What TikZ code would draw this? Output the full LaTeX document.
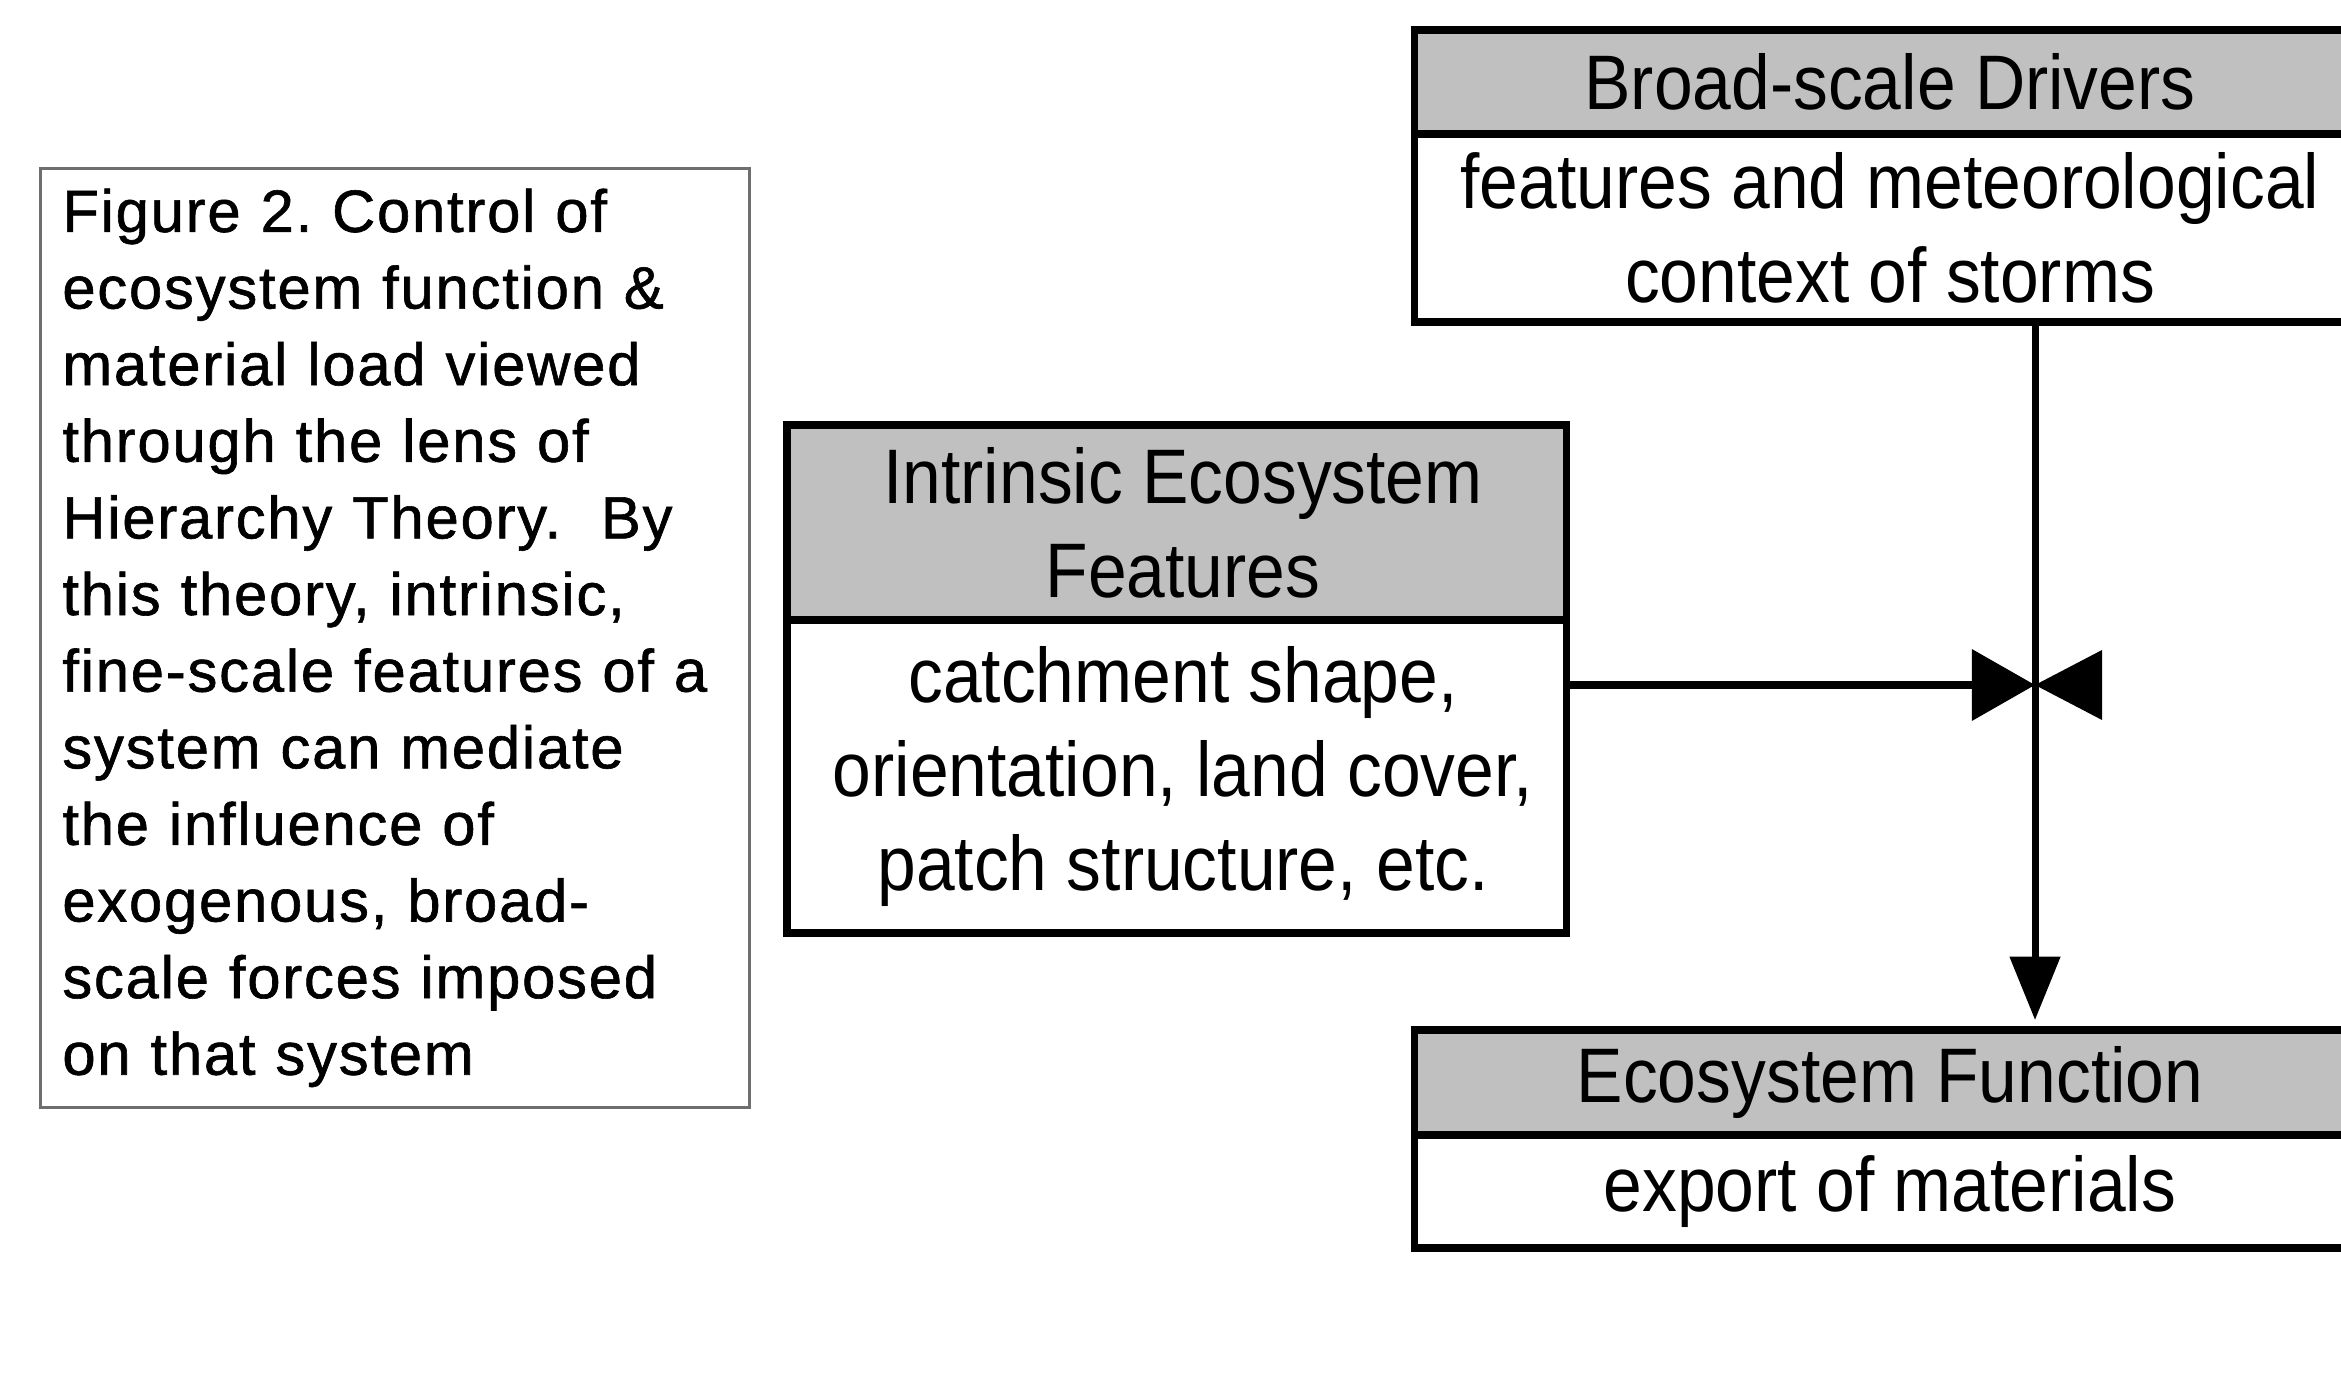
\documentclass[tikz,border=0pt]{standalone}
\usepackage{fontspec}
\setmainfont{Liberation Sans}
\newfontfamily\boxfont[FakeStretch=0.9]{Liberation Sans}
\newfontfamily\capfont[LetterSpace=3,FakeBold=1]{Liberation Sans}
\usetikzlibrary{positioning}
\usetikzlibrary{arrows.meta}

\definecolor{hdrgray}{RGB}{192,192,192}
\definecolor{capline}{RGB}{110,110,110}

\tikzset{
    boxtext/.style={font=\boxfont\fontsize{22}{26.8}\selectfont},
    head/.style={draw, line width=2pt, fill=hdrgray, inner sep=0pt, outer sep=0pt, align=center, boxtext},
    body/.style={draw, line width=2pt, fill=white, inner sep=0pt, outer sep=0pt, align=center, boxtext},
    link/.style={line width=2pt},
    caption/.style={draw=capline, line width=0.8pt, anchor=north west, text width=6.65cm, inner xsep=0.22cm,
        minimum height=9.39cm, align=left, font=\capfont\fontsize{17}{21.8}\selectfont\frenchspacing}
}

\begin{document}
\begin{tikzpicture}
    % Parameters
    \pgfmathsetmacro{\widebox}{9.52}
    \pgfmathsetmacro{\narrowbox}{7.79}
    \pgfmathsetmacro{\juncx}{20.35}
    \pgfmathsetmacro{\juncy}{-6.85}

    \path[use as bounding box, fill=white] (0,0) rectangle (23.41,-13.81);

    % Caption
    \node[caption] (capt) at (0.39,-1.67) {Figure 2. Control of\\
        ecosystem function \&\\
        material load viewed\\
        through the lens of\\
        Hierarchy Theory.\ \ By\\
        this theory, intrinsic,\\
        fine-scale features of a\\
        system can mediate\\
        the influence of\\
        exogenous, broad-\\
        scale forces imposed\\
        on that system};

    % Boxes
    \node[head, anchor=north west, minimum width=\widebox cm, minimum height=1.04cm] (broadhead) at (14.14,-0.30) {Broad-scale Drivers};
    \node[body, below=0pt of broadhead, minimum width=\widebox cm, minimum height=1.88cm] (broadbody) {features and meteorological\\context of storms};

    \node[head, anchor=north west, minimum width=\narrowbox cm, minimum height=1.95cm] (intrhead) at (7.87,-4.25) {\hspace*{0.13cm}Intrinsic Ecosystem\\\hspace*{0.13cm}Features};
    \node[body, below=0pt of intrhead, minimum width=\narrowbox cm, minimum height=3.13cm] (intrbody) {\hspace*{0.13cm}catchment shape,\\\hspace*{0.13cm}orientation, land cover,\\\hspace*{0.13cm}patch structure, etc.};

    \node[head, anchor=north west, minimum width=\widebox cm, minimum height=1.05cm] (ecohead) at (14.14,-10.30) {Ecosystem Function};
    \node[body, below=0pt of ecohead, minimum width=\widebox cm, minimum height=1.13cm] (ecobody) {export of materials};

    % Connectors
    \coordinate (junc) at (\juncx,\juncy);
    \draw[link, -{Triangle[length=18pt,width=14pt]}, shorten >=0.1cm] (broadbody.south -| junc) -- (ecohead.north -| junc);
    \draw[link, -{Triangle[length=18pt,width=20pt]}] (intrbody.east |- junc) -- (junc);
    \fill (junc) -- ++(0.67,0.35) -- ++(0,-0.70) -- cycle;
\end{tikzpicture}
\end{document}
